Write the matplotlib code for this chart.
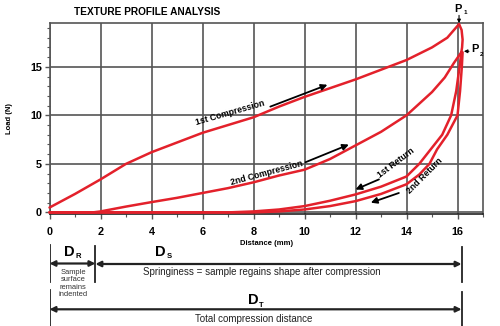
import matplotlib.pyplot as plt
from matplotlib.ticker import MultipleLocator

# Texture profile analysis curves, distance (mm) vs load (N)
comp1_x = [0, 1, 2, 3, 4, 5, 6, 7, 8, 9, 10, 11, 12, 13, 14, 15, 15.6, 16.06]
comp1_y = [0.5, 1.9, 3.4, 5.0, 6.2, 7.2, 8.2, 9.0, 9.8, 10.9, 11.9, 12.8, 13.7, 14.7, 15.7, 17.0, 18.0, 19.4]

relax_x = [16.06, 16.16, 16.2, 16.18, 16.15]
relax_y = [19.4, 18.8, 17.8, 17.0, 16.5]

ret1_x = [16.15, 16.08, 15.95, 15.75, 15.4, 14.95, 14.5, 14.0, 13.0, 12.0, 11.0, 10.0, 9.0, 8.0, 7.0, 0.0]
ret1_y = [16.5, 15.0, 12.5, 10.0, 8.0, 6.5, 5.0, 3.7, 2.65, 1.85, 1.2, 0.65, 0.3, 0.1, 0.0, 0.0]

comp2_x = [0, 1.7, 2, 3, 4, 5, 6, 7, 8, 9, 10, 11, 12, 13, 14, 15, 15.5, 15.86, 16.15]
comp2_y = [0, 0, 0.1, 0.6, 1.06, 1.5, 2.0, 2.5, 3.1, 3.8, 4.4, 5.5, 6.9, 8.3, 10.0, 12.4, 13.9, 15.4, 16.5]

ret2_x = [16.2, 16.17, 16.1, 16.0, 15.6, 15.2, 14.9, 14.5, 14.0, 13.0, 12.0, 11.0, 10.0, 9.0, 8.0, 0.0]
ret2_y = [16.5, 15.0, 12.5, 10.0, 8.0, 6.5, 5.0, 3.9, 2.9, 1.9, 1.16, 0.65, 0.3, 0.1, 0.0, 0.0]

x_ticks = [0, 2, 4, 6, 8, 10, 12, 14, 16]
y_ticks = [0, 5, 10, 15]

# distances marked under the axis
d_r = 1.8
d_t = 16.16

RED = '#e3212b'
GRID = '#555555'
FONT = ['Liberation Sans', 'DejaVu Sans']
plt.rcParams['font.family'] = FONT

fig = plt.figure(figsize=(5.0, 3.26), dpi=100)
ax = fig.add_axes([0.099, 0.344, 0.867, 0.585])

for xs, ys in [(comp1_x, comp1_y), (relax_x, relax_y), (ret1_x, ret1_y),
               (comp2_x, comp2_y), (ret2_x, ret2_y)]:
    ax.plot(xs, ys, color=RED, lw=1.8, solid_capstyle='round', zorder=3, clip_on=False)

ax.set_xlim(0, 17)
ax.set_ylim(-0.15, 19.5)
ax.set_xticks(x_ticks)
ax.set_yticks(y_ticks)
ax.xaxis.set_minor_locator(MultipleLocator(1))
ax.yaxis.set_minor_locator(MultipleLocator(1))
ax.grid(True, which='major', color=GRID, lw=1.2)
for s in ax.spines.values():
    s.set_color(GRID)
    s.set_linewidth(1.2)
ax.spines['bottom'].set_color('#222222')
ax.tick_params(which='major', length=3.5, width=1, color=GRID, labelsize=7.8, pad=2)
ax.tick_params(which='minor', length=2.2, width=0.8, color=GRID)
ax.tick_params(axis='x', which='major', pad=6)
for lab in ax.get_xticklabels() + ax.get_yticklabels():
    lab.set_fontweight('bold')

ax.set_ylabel('Load (N)', fontsize=5.5, fontweight='bold', labelpad=12)
ax.set_xlabel('Distance (mm)', fontsize=5.5, fontweight='bold', labelpad=2)
fig.text(0.294, 0.962, 'TEXTURE PROFILE ANALYSIS', fontsize=7.3, fontweight='bold',
         ha='center', va='center')

# curve labels and direction arrows
lab_kw = dict(fontsize=6.3, fontweight='bold', ha='center', va='center',
              rotation_mode='anchor', zorder=5)
arr_kw = dict(arrowstyle='-|>', color='black', lw=1.3, mutation_scale=9,
              shrinkA=0, shrinkB=0)
ax.text(7.1, 10.3, '1st Compression', rotation=16, **lab_kw)
ax.annotate('', xy=(10.9, 13.15), xytext=(8.66, 10.9), arrowprops=arr_kw)
ax.text(8.5, 4.1, '2nd Compression', rotation=15, **lab_kw)
ax.annotate('', xy=(11.74, 6.99), xytext=(10.04, 5.17), arrowprops=arr_kw)
ax.text(13.6, 5.15, '1st Return', rotation=37, **lab_kw)
ax.annotate('', xy=(12.0, 2.36), xytext=(12.92, 3.4), arrowprops=arr_kw)
ax.text(14.7, 3.75, '2nd Return', rotation=45, **lab_kw)
ax.annotate('', xy=(12.6, 1.0), xytext=(13.7, 2.0), arrowprops=arr_kw)

# peak markers
small = dict(arrowstyle='-|>', color='black', lw=0.8, mutation_scale=5,
             shrinkA=0, shrinkB=0)
ax.annotate('', xy=(16.06, 19.5), xytext=(16.06, 20.3), arrowprops=small,
            annotation_clip=False)
ax.text(16.0, 21.0, 'P', fontsize=8, fontweight='bold', ha='center', va='center')
ax.text(16.3, 20.6, '1', fontsize=4.5, fontweight='bold', ha='center', va='center')
ax.annotate('', xy=(16.25, 16.6), xytext=(16.45, 16.6), arrowprops=small,
            annotation_clip=False)
ax.text(16.68, 16.8, 'P', fontsize=8, fontweight='bold', ha='center', va='center')
ax.text(16.93, 16.3, '2', fontsize=4.5, fontweight='bold', ha='center', va='center')

# distance brackets below the chart, y in pixels from the top
bx = fig.add_axes([0.099, 0.0, 0.867, (326 - 240) / 326])
bx.set_xlim(0, 17)
bx.set_ylim(326, 240)
bx.axis('off')
bar_kw = dict(color='#222222', lw=1.3)
bx.plot([0, 0], [245, 282], **bar_kw)
bx.plot([0, 0], [290, 326], **bar_kw)
bx.plot([d_r, d_r], [246, 282], **bar_kw)
bx.plot([d_t, d_t], [247, 282], **bar_kw)
bx.plot([d_t, d_t], [292, 326], **bar_kw)
dbl = dict(arrowstyle='<|-|>', color='#222222', lw=1.6, mutation_scale=8,
           shrinkA=0, shrinkB=0)
bx.annotate('', xy=(0, 263.5), xytext=(d_r, 263.5), arrowprops=dbl)
bx.annotate('', xy=(d_r, 264), xytext=(d_t, 264), arrowprops=dbl)
bx.annotate('', xy=(0, 309.3), xytext=(d_t, 309.3), arrowprops=dbl)

big = dict(fontsize=10.5, fontweight='bold', ha='center', va='center')
sub = dict(fontsize=5.5, fontweight='bold', ha='center', va='center')
bx.text(0.78, 252, 'D', **big)
bx.text(1.12, 257, 'R', **sub)
bx.text(4.34, 252, 'D', **big)
bx.text(4.68, 257, 'S', **sub)
bx.text(8.0, 300, 'D', **big)
bx.text(8.32, 305.5, 'T', **sub)
bx.text(0.92, 283.5, 'Sample\nsurface\nremains\nindented', fontsize=5.4, color='#333333',
        ha='center', va='center', linespacing=1.05)
bx.text(8.34, 272, 'Springiness = sample regains shape after compression',
        fontsize=7, color='#222222', ha='center', va='center')
bx.text(8.0, 318.5, 'Total compression distance', fontsize=7, color='#222222',
        ha='center', va='center')

fig.savefig('out.png', dpi=100)
